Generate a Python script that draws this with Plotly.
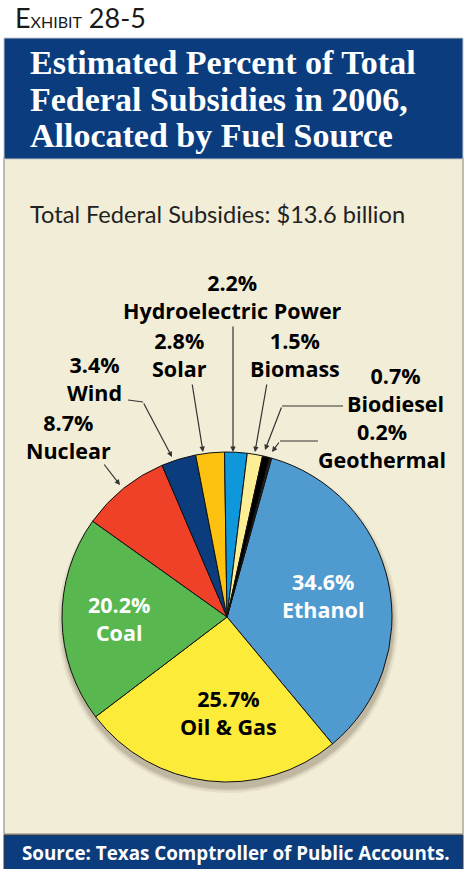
import plotly.graph_objects as go

# ---- data ----
sources = ["Ethanol", "Oil & Gas", "Coal", "Nuclear", "Wind", "Solar",
           "Hydroelectric Power", "Biomass", "Biodiesel", "Geothermal"]
percents = [34.6, 25.7, 20.2, 8.7, 3.4, 2.8, 2.2, 1.5, 0.7, 0.2]
colors = ["#4F9BD0", "#FDEB3A", "#58B74E", "#EE4127", "#0B3D7E", "#FDC110",
          "#0E97DA", "#FCEE95", "#000000", "#2A2A2A"]

title_lines = ["Estimated Percent of Total", "Federal Subsidies in 2006,",
               "Allocated by Fuel Source"]
subtitle = "Total Federal Subsidies: $13.6 billion"
source_note = "Source: Texas Comptroller of Public Accounts."

W, H = 465, 869
BLUE = "#0A3C7E"
BEIGE = "#F2EDD7"
LABEL_FONT = "Open Sans"

# pie geometry (pixels)
cx, cy, r = 227, 617, 165

fig = go.Figure()
fig.add_trace(go.Pie(
    labels=sources, values=percents, sort=False, direction="clockwise",
    rotation=15.7, textinfo="none", hoverinfo="label+percent",
    marker=dict(colors=colors, line=dict(color="#111111", width=1)),
    domain=dict(x=[(cx - r) / W, (cx + r) / W],
                y=[1 - (cy + r) / H, 1 - (cy - r) / H]),
    showlegend=False,
))

shapes = []
# beige panel
shapes.append(dict(type="rect", xref="x", yref="y", x0=4, x1=463, y0=158, y1=834,
                   fillcolor=BEIGE, line=dict(color="#A9A79C", width=1.5), layer="below"))
# title box
shapes.append(dict(type="rect", xref="x", yref="y", x0=4, x1=463, y0=38, y1=159,
                   fillcolor=BLUE, line=dict(color="#C8C8C8", width=1), layer="below"))
# source bar
shapes.append(dict(type="rect", xref="x", yref="y", x0=4, x1=463, y0=835, y1=870,
                   fillcolor=BLUE, line=dict(color="#3A3A3A", width=1), layer="below"))
# soft shadow under pie
for rr in [170, 168, 167, 166]:
    shapes.append(dict(type="circle", xref="x", yref="y",
                       x0=cx + 1 - rr, x1=cx + 1 + rr, y0=cy + 6 - rr, y1=cy + 6 + rr,
                       fillcolor="rgba(60,50,30,0.08)", line=dict(width=0), layer="below"))
# horizontal parts of leader lines
for (x0, y0, x1, y1) in [(128, 400, 143, 402), (343, 406, 282, 406), (318, 441, 280, 441)]:
    shapes.append(dict(type="line", xref="x", yref="y", x0=x0, y0=y0, x1=x1, y1=y1,
                       line=dict(color="#333333", width=1.2), layer="above"))

ann = []
# Exhibit header
ann.append(dict(x=13, y=17, xref="x", yref="y", xanchor="left", yanchor="middle",
                text="E<span style='font-size:16px'>XHIBIT</span> 28-5", showarrow=False,
                font=dict(family="Lato", size=27, color="#1A1A1A")))
# title lines
for t, yy in zip(title_lines, [62, 99, 135]):
    ann.append(dict(x=28, y=yy, xref="x", yref="y", xanchor="left", yanchor="middle",
                    text=t, showarrow=False,
                    font=dict(family="Liberation Serif", size=34, color="white", weight="bold")))
# subtitle
ann.append(dict(x=28, y=214, xref="x", yref="y", xanchor="left", yanchor="middle",
                text=subtitle, showarrow=False,
                font=dict(family="Lato", size=23.6, color="#222222")))
# source
ann.append(dict(x=236, y=853, xref="x", yref="y", xanchor="center", yanchor="middle",
                text=source_note, showarrow=False,
                font=dict(family=LABEL_FONT, size=18.8, color="white", weight="bold")))

# slice labels: x centre, baseline of percent line, baseline of name line, colour
label_pos = {
    "Ethanol": (323, 590, 615, "white"),
    "Oil & Gas": (228, 707, 732, "black"),
    "Coal": (119, 613, 637, "white"),
    "Nuclear": (68, 431, 455, "black"),
    "Wind": (94, 373, 397, "black"),
    "Solar": (179, 349, 374, "black"),
    "Hydroelectric Power": (232, 290, 316, "black"),
    "Biomass": (295, 349, 374, "black"),
    "Biodiesel": (395, 383, 410, "black"),
    "Geothermal": (382, 441, 464, "black"),
}
for name, pct in zip(sources, percents):
    x, b1, b2, c = label_pos[name]
    ann.append(dict(x=x, y=(b1 + b2) / 2 - 7, xref="x", yref="y",
                    xanchor="center", yanchor="middle",
                    text=f"{pct:.1f}%<br>{name}", showarrow=False,
                    font=dict(family=LABEL_FONT, size=21.5, color=c, weight="bold")))

# leader arrows: (tail_x, tail_y, tip_x, tip_y)
leaders = [(233, 325, 233, 452), (192, 383, 203, 452), (267, 383, 255, 452),
           (143, 402, 172, 457), (103, 463, 120, 485), (282, 406, 265, 450),
           (280, 441, 272, 452)]
for tx, ty, hx, hy in leaders:
    ann.append(dict(x=hx, y=hy, ax=tx, ay=ty, xref="x", yref="y", axref="x", ayref="y",
                    text="", showarrow=True, arrowhead=2, arrowsize=0.9, arrowwidth=1.2,
                    arrowcolor="#333333", standoff=0, startstandoff=0))

fig.update_layout(
    width=W, height=H, margin=dict(l=0, r=0, t=0, b=0),
    paper_bgcolor="white", plot_bgcolor="rgba(0,0,0,0)",
    xaxis=dict(range=[0, W], visible=False, fixedrange=True),
    yaxis=dict(range=[H, 0], visible=False, fixedrange=True),
    shapes=shapes, annotations=ann, showlegend=False,
)

fig.write_html("out.html", config={"displayModeBar": False},
               post_script="document.body.style.margin='0';document.body.style.overflow='hidden';")
